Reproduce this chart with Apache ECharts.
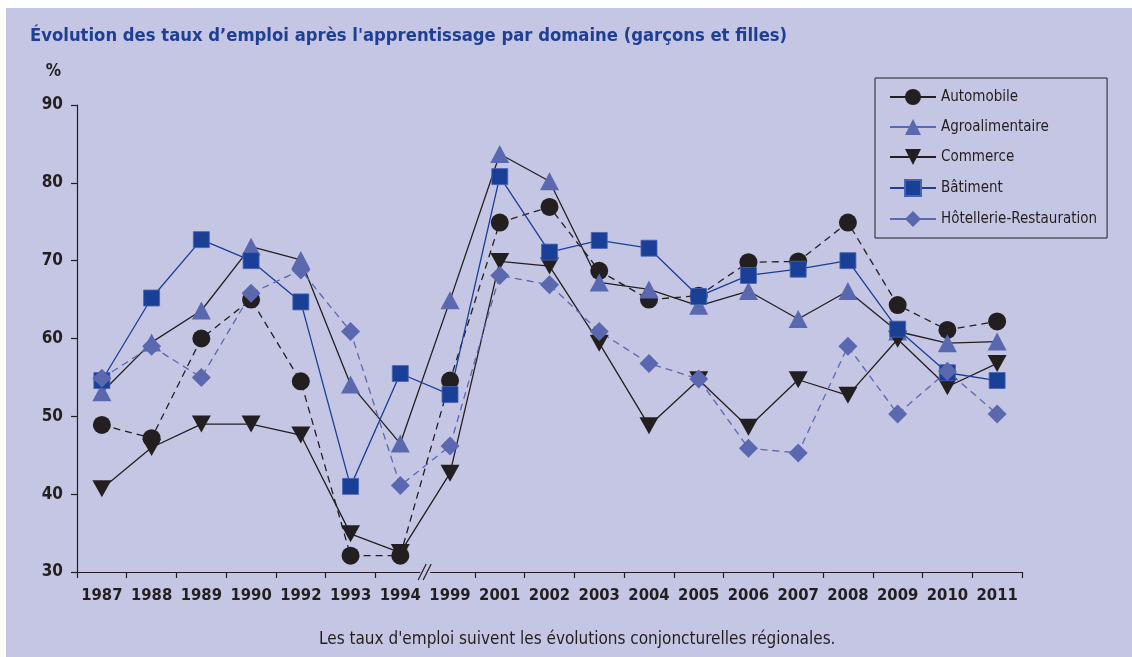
<!DOCTYPE html>
<html>
<head>
<meta charset="utf-8">
<script src="https://cdn.jsdelivr.net/npm/echarts@6/dist/echarts.min.js"></script>
<style>
html, body { margin: 0; padding: 0; background: #ffffff; }
#panel { position: absolute; left: 6px; top: 8px; width: 1126px; height: 649px; background: #c5c6e3; }
#chart { position: absolute; left: 0; top: 0; width: 1132px; height: 657px; }
</style>
</head>
<body>
<div id="panel"></div>
<div id="chart"></div>
<script>
const years = ['1987', '1988', '1989', '1990', '1992', '1993', '1994', '1999', '2001', '2002',
    '2003', '2004', '2005', '2006', '2007', '2008', '2009', '2010', '2011'];
const automobile = [48.9, 47.2, 60, 65, 54.5, 32.1, 32.1, 54.6, 74.9, 76.9, 68.7, 65, 65.5, 69.8, 69.9, 74.9, 64.3, 61.1, 62.2];
const agroalimentaire = [53.1, 59.5, 63.6, 71.8, 70.1, 54.1, 46.5, 64.9, 83.7, 80.2, 67.2, 66.3, 64.2, 66.1, 62.5, 66.1, 60.9, 59.4, 59.6];
const commerce = [40.7, 46, 49, 49, 47.6, 34.9, 32.5, 42.7, 69.9, 69.3, 59.4, 48.8, 54.7, 48.6, 54.7, 52.7, 59.9, 53.8, 56.8];
const batiment = [54.6, 65.2, 72.7, 70, 64.7, 41, 55.5, 52.8, 80.8, 71.1, 72.6, 71.6, 65.4, 68.1, 68.9, 70, 61.2, 55.6, 54.6];
const hotellerie = [54.9, 59, 55, 65.8, 68.8, 60.9, 41.1, 46.2, 68.1, 66.9, 60.9, 56.8, 54.8, 45.9, 45.3, 59, 50.3, 55.8, 50.3];

const ink = '#231f20';
const navy = '#1a3f97';
const lilac = '#5a68b0';
const bg = '#c5c6e3';
const narrow = "'DejaVu Sans Condensed', 'Liberation Sans', sans-serif";
const downTri = 'path://M0,0L20,0L10,18Z';

const chart = echarts.init(document.getElementById('chart'));

function line(name, data, lineColor, markColor, dashed, symbol, size) {
    return {
        name: name,
        type: 'line',
        data: data,
        symbol: symbol,
        symbolSize: size,
        showAllSymbol: true,
        lineStyle: { color: lineColor, width: 1.3, type: dashed ? [7, 5] : 'solid' },
        itemStyle: { color: markColor },
        emphasis: { disabled: true },
        animation: false
    };
}

const option = {
    backgroundColor: 'transparent',
    textStyle: { fontFamily: narrow },
    title: [
        {
            text: 'Évolution des taux d’emploi après l\'apprentissage par domaine (garçons et filles)',
            left: 25, top: 22,
            textStyle: { fontFamily: narrow, fontSize: 18.3, fontWeight: 'bold', color: '#1f3f94' }
        },
        {
            text: 'Les taux d\'emploi suivent les évolutions conjoncturelles régionales.',
            left: 314, top: 626,
            textStyle: { fontFamily: narrow, fontSize: 17, fontWeight: 'normal', color: ink }
        }
    ],
    legend: {
        orient: 'vertical',
        left: 875, top: 78,
        padding: [11, 10, 11, 14],
        itemWidth: 46, itemHeight: 20, itemGap: 14,
        borderColor: ink, borderWidth: 1,
        textStyle: { fontFamily: narrow, fontSize: 15, color: ink },
        data: [
            { name: 'Automobile', lineStyle: { type: 'solid' } },
            { name: 'Agroalimentaire', lineStyle: { color: lilac } },
            { name: 'Commerce' },
            { name: 'Bâtiment' },
            { name: 'Hôtellerie-Restauration', lineStyle: { type: 'solid' } }
        ]
    },
    grid: { left: 77, right: 110, top: 105, bottom: 85 },
    xAxis: {
        type: 'category',
        data: years,
        boundaryGap: true,
        axisLine: { show: true, lineStyle: { color: ink, width: 1.2 } },
        axisTick: { show: true, interval: 0, length: 6, lineStyle: { color: ink, width: 1.2 } },
        axisLabel: { interval: 0, fontFamily: narrow, fontSize: 16.5, fontWeight: 'bold', color: ink, margin: 15 }
    },
    yAxis: {
        type: 'value',
        min: 30, max: 90, interval: 10,
        name: '%',
        nameLocation: 'end',
        nameGap: 25,
        nameTextStyle: { fontFamily: narrow, fontSize: 17, fontWeight: 'bold', color: ink, align: 'right', padding: [0, 16, 0, 0] },
        splitLine: { show: false },
        axisLine: { show: true, lineStyle: { color: ink, width: 1.2 } },
        axisTick: { show: true, length: 6, lineStyle: { color: ink, width: 1.2 } },
        axisLabel: { fontFamily: narrow, fontSize: 17, fontWeight: 'bold', color: ink, margin: 14 }
    },
    series: [
        line('Automobile', automobile, ink, ink, true, 'circle', 18),
        line('Agroalimentaire', agroalimentaire, ink, lilac, false, 'triangle', [19, 18]),
        line('Commerce', commerce, ink, ink, false, downTri, [19, 17]),
        line('Bâtiment', batiment, navy, navy, false, 'rect', 16),
        line('Hôtellerie-Restauration', hotellerie, lilac, lilac, true, 'diamond', 19)
    ]
};
option.series[3].itemStyle.borderColor = '#4a63b0';
option.series[3].itemStyle.borderWidth = 0.8;

chart.setOption(option);

// axis break "//" between 1994 and 1999
const bx = (chart.convertToPixel({ xAxisIndex: 0 }, '1994') + chart.convertToPixel({ xAxisIndex: 0 }, '1999')) / 2;
const by = chart.convertToPixel({ yAxisIndex: 0 }, 30);
chart.setOption({
    graphic: [
        { type: 'rect', shape: { x: bx - 5, y: by - 3, width: 10, height: 11 }, style: { fill: bg }, z: 100 },
        { type: 'line', shape: { x1: bx - 7, y1: by + 8, x2: bx + 1, y2: by - 8 }, style: { stroke: ink, lineWidth: 1.2 }, z: 101 },
        { type: 'line', shape: { x1: bx - 2, y1: by + 8, x2: bx + 6, y2: by - 8 }, style: { stroke: ink, lineWidth: 1.2 }, z: 101 }
    ]
});
</script>
</body>
</html>
